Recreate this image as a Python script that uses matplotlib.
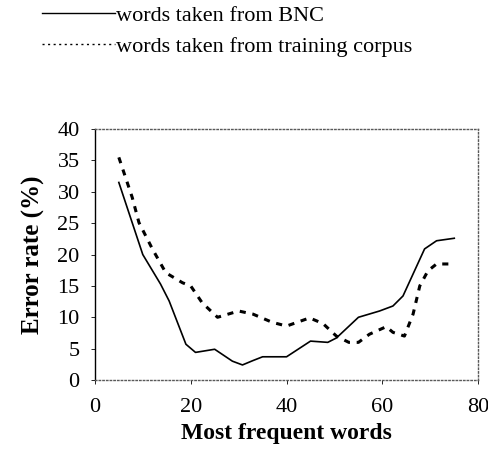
import matplotlib
matplotlib.use("Agg")
import matplotlib.pyplot as plt
from matplotlib.lines import Line2D

plt.rcParams["font.family"] = ["Liberation Serif", "DejaVu Serif"]

# values
bnc_x = [5, 10, 13.7, 15.5, 19, 21, 25, 28.7, 30.8, 33, 35, 40, 45, 48.6, 50.4, 55, 59.4, 62.2, 64.3, 68.8, 71.3, 75]
bnc_y = [31.5, 20, 15.3, 12.6, 5.7, 4.4, 4.9, 3.0, 2.4, 3.1, 3.7, 3.7, 6.2, 6.0, 6.7, 10.0, 11.0, 11.8, 13.4, 20.9, 22.2, 22.6]

train_x = [5, 7.8, 9.2, 12, 14.8, 18.3, 20, 22.4, 25.6, 30, 33, 37, 40, 44.8, 47.6, 50.4, 53, 55, 57.3, 60.8, 62.2, 64.6, 66.4, 67.8, 69.5, 71.3, 74]
train_y = [35.5, 29.1, 25.1, 20.9, 17.1, 15.5, 15.0, 12.3, 10.0, 11.0, 10.5, 9.2, 8.6, 9.9, 9.0, 7.0, 6.0, 6.0, 7.3, 8.5, 7.6, 7.0, 10.5, 15.0, 17.4, 18.5, 18.5]

labels = ["words taken from BNC", "words taken from training corpus"]

fig = plt.figure(figsize=(4.89, 4.76), dpi=100)
ax = fig.add_axes([0.194, 0.2017, 0.784, 0.527])

ax.plot(bnc_x, bnc_y, "-", color="black", lw=1.2)
ax.plot(train_x, train_y, color="black", lw=2.2, linestyle=(0, (2, 2.2)))

ax.set_xlim(0, 80)
ax.set_ylim(0, 40)
ax.set_xticks([0, 20, 40, 60, 80])
ax.set_yticks(range(0, 41, 5))
ax.tick_params(axis="both", labelsize=16, direction="out", length=3, width=0.6)
ax.tick_params(axis="x", pad=10)
ax.tick_params(axis="y", pad=8)

for side in ["top", "right", "bottom"]:
    ax.spines[side].set_linestyle(":")
    ax.spines[side].set_color("0.35")
    ax.spines[side].set_linewidth(1.0)
ax.spines["left"].set_linewidth(1.0)

ax.set_xlabel("Most frequent words", fontsize=17, fontweight="bold", labelpad=4)
ax.set_ylabel("Error rate (%)", fontsize=18, fontweight="bold", labelpad=9)

handles = [Line2D([], [], color="black", lw=1.0, linestyle="-"),
           Line2D([], [], color="black", lw=1.0, linestyle=(0, (1.5, 2.5)))]
fig.legend(handles, labels, loc="upper left", bbox_to_anchor=(0.045, 1.03),
           frameon=False, fontsize=16, handlelength=3.3, handletextpad=0.05,
           labelspacing=0.45)

plt.savefig("out.png", dpi=100)
